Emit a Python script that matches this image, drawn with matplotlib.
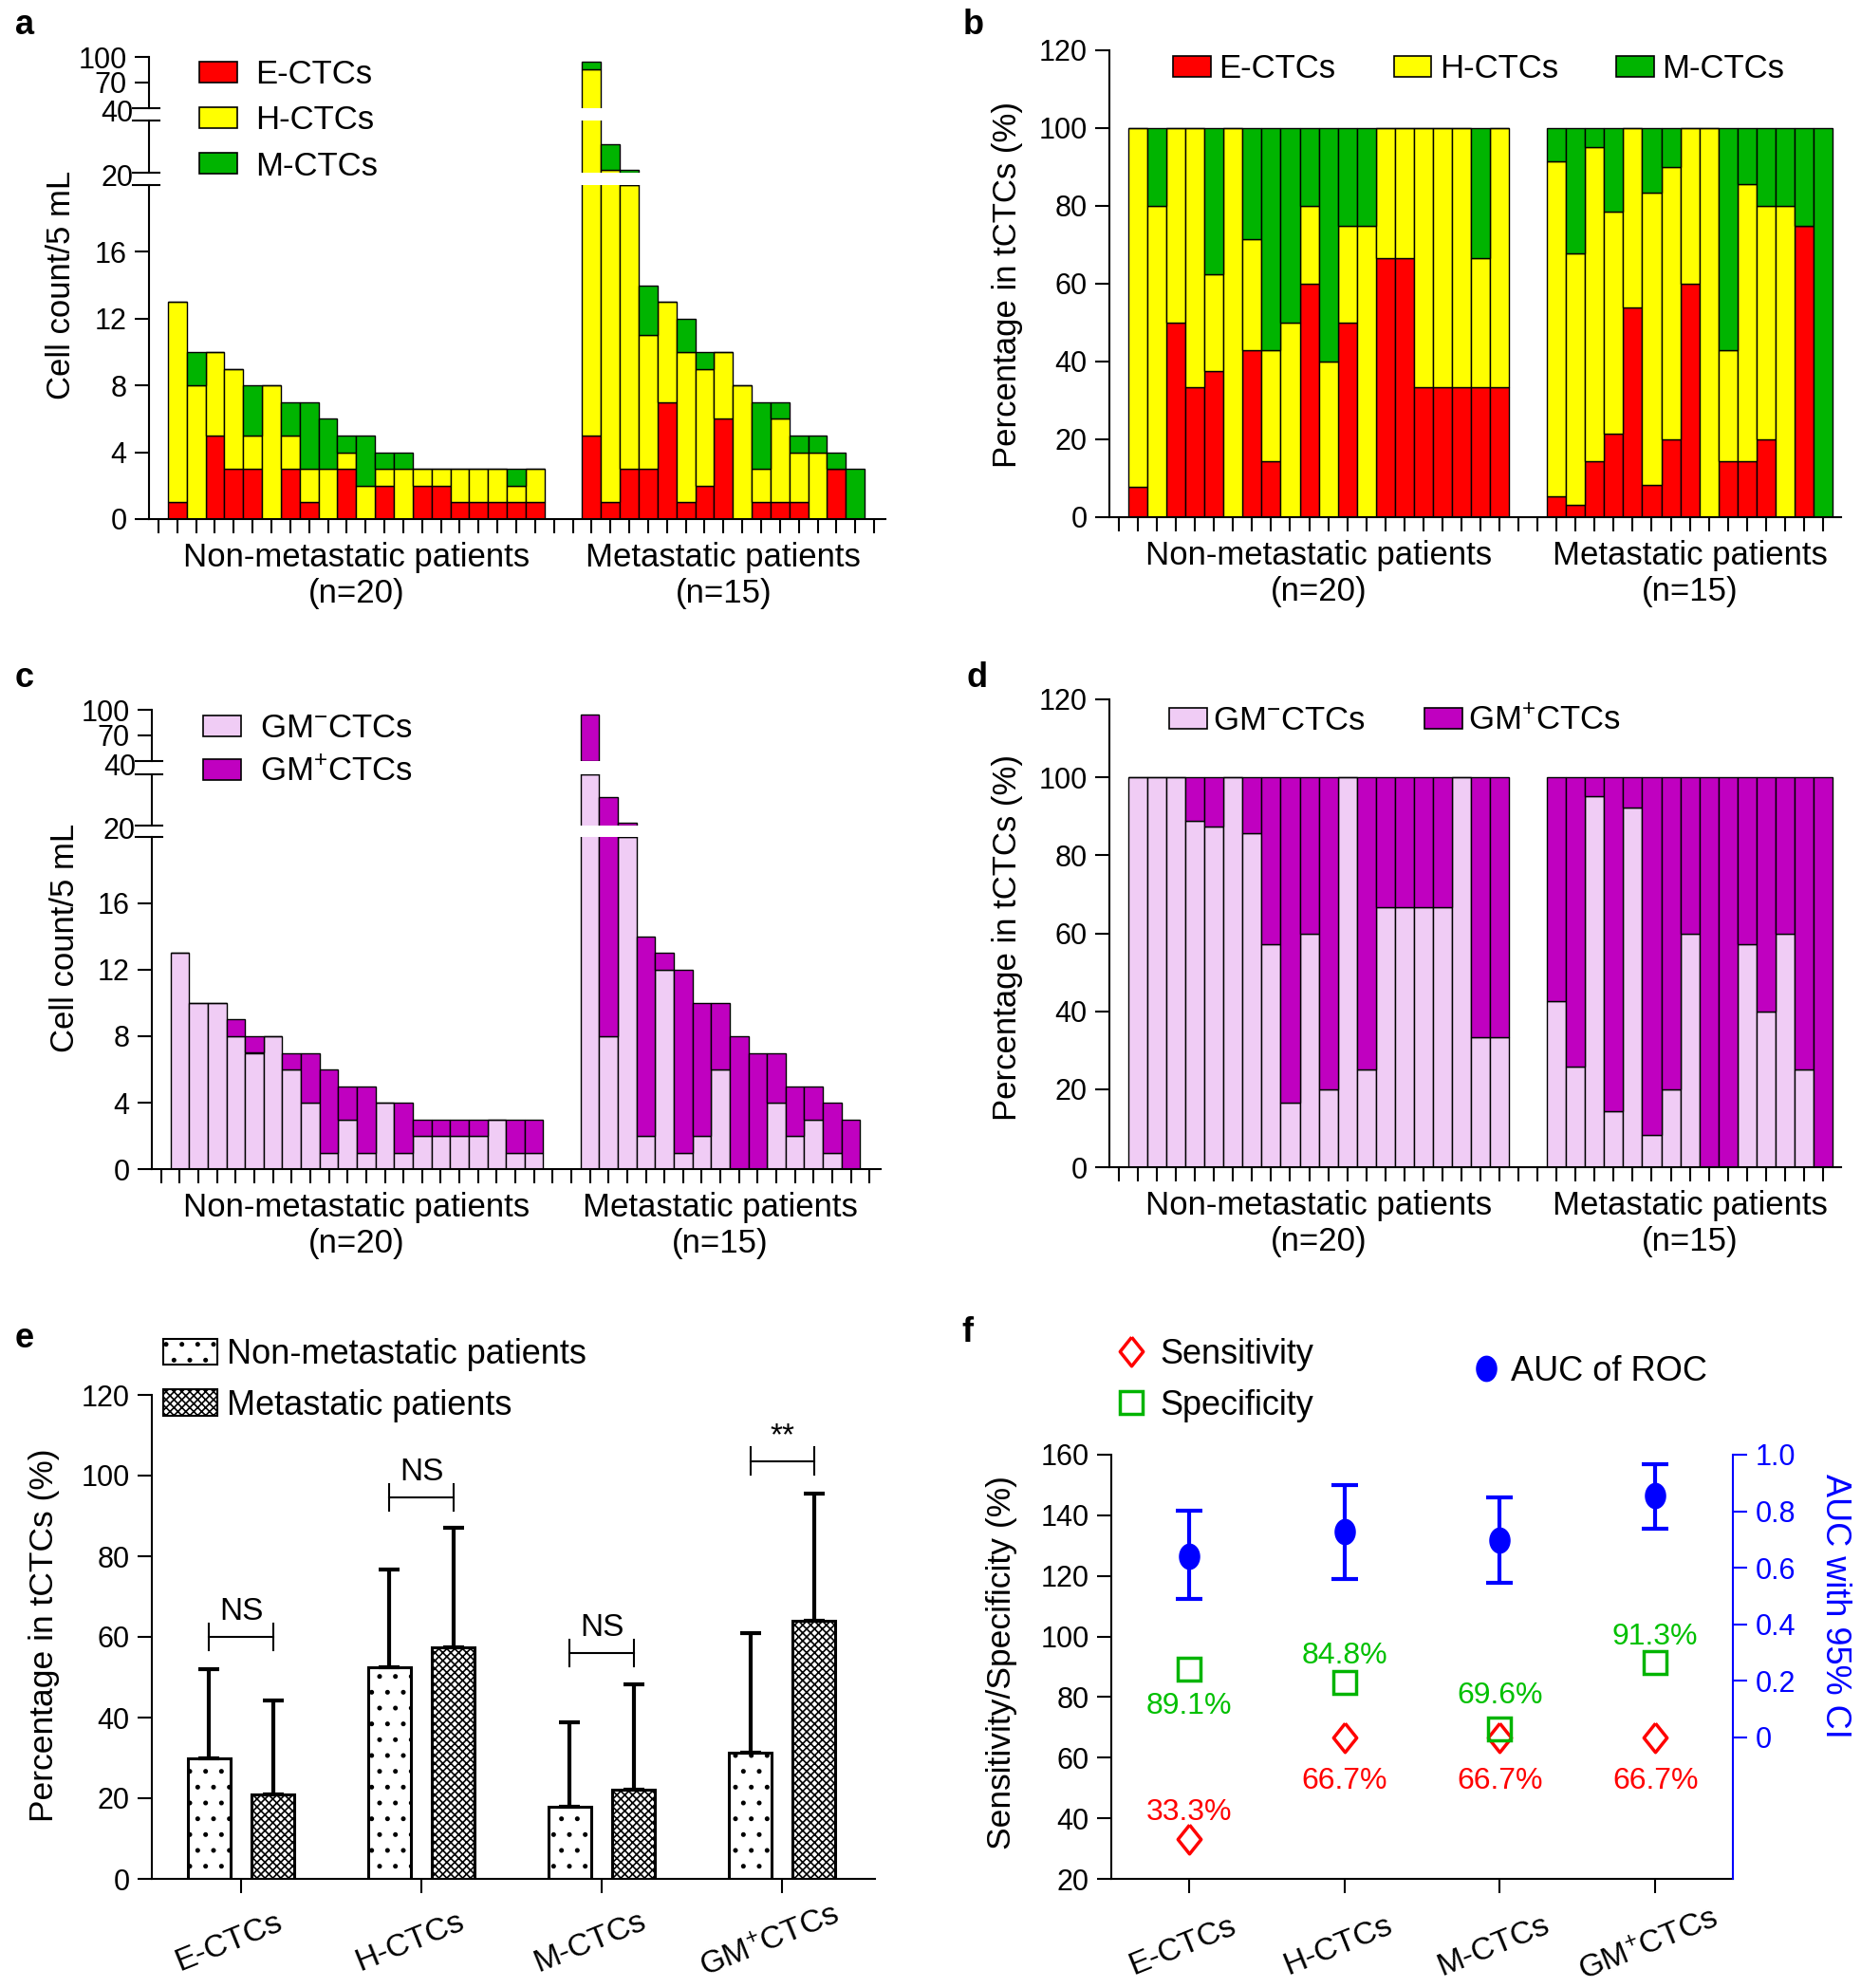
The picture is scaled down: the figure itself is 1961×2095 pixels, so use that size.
import matplotlib
matplotlib.use("Agg")
import matplotlib.pyplot as plt
from matplotlib.patches import Patch
from matplotlib.lines import Line2D
import numpy as np

plt.rcParams['font.family'] = ['Liberation Sans', 'DejaVu Sans']
plt.rcParams['mathtext.default'] = 'regular'
plt.rcParams['hatch.linewidth'] = 1.2

INK = '#000000'
RED, YELLOW, GREEN = '#ff0000', '#ffff00', '#00b400'
PINK, MAGENTA = '#f0ccf5', '#c000c0'
BLUE, LGREEN = '#0000ff', '#00c000'

# ---- panels a/b: CTC subtypes per patient (cell counts / 5 mL) ----
nonmet_E = [1, 0, 5, 3, 3, 0, 3, 1, 0, 3, 0, 2, 0, 2, 2, 1, 1, 1, 1, 1]
nonmet_H = [12, 8, 5, 6, 2, 8, 2, 2, 3, 1, 2, 1, 3, 1, 1, 2, 2, 2, 1, 2]
nonmet_M = [0, 2, 0, 0, 3, 0, 2, 4, 3, 1, 3, 1, 1, 0, 0, 0, 0, 0, 1, 0]
met_E = [5, 1, 3, 3, 7, 1, 2, 6, 0, 1, 1, 1, 0, 3, 0]
met_H = [81, 20, 17, 8, 6, 9, 7, 4, 8, 2, 5, 3, 4, 0, 0]
met_M = [8, 10, 1, 3, 0, 2, 1, 0, 0, 4, 1, 1, 1, 1, 3]

# ---- panels c/d: GM- / GM+ CTCs ----
nonmet_GMneg = [13, 10, 10, 8, 7, 8, 6, 4, 1, 3, 1, 4, 1, 2, 2, 2, 2, 3, 1, 1]
nonmet_GMpos = [0, 0, 0, 1, 1, 0, 1, 3, 5, 2, 4, 0, 3, 1, 1, 1, 1, 0, 2, 2]
met_GMneg = [40, 8, 20, 2, 12, 1, 2, 6, 0, 0, 4, 2, 3, 1, 0]
met_GMpos = [54, 23, 1, 12, 1, 11, 8, 4, 8, 7, 3, 3, 2, 3, 3]

group_labels = ["Non-metastatic patients\n(n=20)", "Metastatic patients\n(n=15)"]

# ---- panel e: mean + SD percentage ----
e_categories = ["E-CTCs", "H-CTCs", "M-CTCs", "GM$^{+}$CTCs"]
nonmet_mean = [29.8, 52.5, 18.0, 31.3]
nonmet_sd = [22.3, 24.1, 20.9, 29.6]
met_mean = [20.9, 57.4, 22.2, 64.1]
met_sd = [23.3, 29.6, 26.0, 31.5]
sig_text = ["NS", "NS", "NS", "**"]
sig_level = [60.0, 94.6, 56.0, 103.6]

# ---- panel f: diagnostic performance ----
f_categories = ["E-CTCs", "H-CTCs", "M-CTCs", "GM$^{+}$CTCs"]
sensitivity = [33.3, 66.7, 66.7, 66.7]
specificity = [89.1, 84.8, 69.6, 91.3]
auc = [0.642, 0.727, 0.696, 0.854]
auc_lo = [0.488, 0.561, 0.548, 0.739]
auc_hi = [0.803, 0.892, 0.849, 0.968]

W, H = 1961, 2095
fig = plt.figure(figsize=(W / 100, H / 100), dpi=100)


def box(l, t, r, b):
    return [l / W, 1 - b / H, (r - l) / W, (b - t) / H]


pos_nonmet = np.arange(1, len(nonmet_E) + 1)
pos_met = np.arange(len(nonmet_E) + 3, len(nonmet_E) + 3 + len(met_E))
xpos = np.concatenate([pos_nonmet, pos_met])
group_centers = [pos_nonmet.mean(), pos_met.mean()]

# taller-than-wide marker shapes used in panel f
DIAMOND = [(0, 1), (0.8, 0), (0, -1), (-0.8, 0), (0, 1)]
_t = np.linspace(0, 2 * np.pi, 60)
ELLIPSE = list(zip(0.8 * np.cos(_t), np.sin(_t)))


def stacked(ax, layers, colors):
    bottom = np.zeros(len(xpos))
    for vals, c in zip(layers, colors):
        vals = np.asarray(vals, dtype=float)
        ax.bar(xpos, vals, 1.0, bottom=bottom, color=c, edgecolor=INK,
               linewidth=1.0, zorder=2)
        bottom = bottom + vals


def style_bottom(ax, xmax, last_tick):
    for s in ('top', 'right'):
        ax.spines[s].set_visible(False)
    for s in ('left', 'bottom'):
        ax.spines[s].set_linewidth(1.5)
    ax.set_xlim(-0.5, xmax)
    ax.set_xticks(np.arange(0, last_tick + 1))
    ax.set_xticklabels([])
    ax.tick_params(axis='x', direction='out', length=11, width=1.5)
    ax.tick_params(axis='y', direction='out', length=11, width=1.5,
                   labelsize=22, pad=6)
    for xc, lab in zip(group_centers, group_labels):
        ax.annotate(lab, xy=(xc, 0), xycoords=('data', 'axes fraction'),
                    xytext=(0, -17), textcoords='offset points', ha='center',
                    va='top', fontsize=25)


def brk(ax, y):
    ax.plot([-0.022, 0.014], [y, y], transform=ax.transAxes, color=INK,
            lw=1.5, clip_on=False)


def broken_panel(left, right, sections, layers, colors):
    (bt, bb), (mt, mb), (tt, tb) = sections
    axb = fig.add_axes(box(left, bt, right, bb))
    axm = fig.add_axes(box(left, mt, right, mb))
    axt = fig.add_axes(box(left, tt, right, tb))
    for ax in (axb, axm, axt):
        stacked(ax, layers, colors)
    axb.set_ylim(0, 20)
    axm.set_ylim(20, 40)
    axt.set_ylim(40, 100)
    style_bottom(axb, 38.6, 38)
    axb.set_yticks([0, 4, 8, 12, 16])
    for ax in (axm, axt):
        ax.set_xlim(-0.5, 38.6)
        for s in ('top', 'right', 'bottom'):
            ax.spines[s].set_visible(False)
        ax.spines['left'].set_linewidth(1.5)
        ax.set_xticks([])
        ax.tick_params(axis='y', direction='out', length=11, width=1.5,
                       labelsize=22, pad=6)
    axm.set_yticks([])
    axt.set_yticks([70, 100])
    brk(axb, 1)
    brk(axm, 0)
    brk(axm, 1)
    brk(axt, 0)
    # labels of the break values sit in the gaps
    for val, (top_px, bot_px) in ((20, (mb, bt)), (40, (tb, mt))):
        fig.text((left - 17) / W, 1 - (top_px + bot_px) / 2 / H, str(val),
                 ha='right', va='center', fontsize=22)
    return axb


def pct_panel(left, top, right, bottom, layers, colors):
    ax = fig.add_axes(box(left, top, right, bottom))
    tot = np.sum([np.asarray(v, float) for v in layers], axis=0)
    stacked(ax, [np.asarray(v, float) / tot * 100 for v in layers], colors)
    ax.set_ylim(0, 120)
    ax.set_yticks(np.arange(0, 121, 20))
    style_bottom(ax, 37.95, 37)
    return ax


# ---------------- panel a ----------------
abc_layers = [nonmet_E + met_E, nonmet_H + met_H, nonmet_M + met_M]
abc_colors = [RED, YELLOW, GREEN]
broken_panel(157, 933, [(195, 547), (127, 182), (60, 114)], abc_layers, abc_colors)
fig.text(64 / W, 1 - 300 / H, "Cell count/5 mL", rotation=90, ha='center',
         va='center', fontsize=25)
handles = [Patch(facecolor=c, edgecolor=INK, lw=1.2) for c in abc_colors]
fig.legend(handles, ["E-CTCs", "H-CTCs", "M-CTCs"], loc='upper left',
           bbox_to_anchor=(210 / W, 1 - 62 / H), frameon=False, fontsize=25,
           borderpad=0, borderaxespad=0, handlelength=1.15, handleheight=0.6,
           handletextpad=0.55, labelspacing=0.44)

# ---------------- panel b ----------------
pct_panel(1169, 53, 1940, 545, abc_layers, abc_colors)
fig.text(1062 / W, 1 - 300 / H, "Percentage in tCTCs (%)", rotation=90,
         ha='center', va='center', fontsize=25)
fig.legend(handles, ["E-CTCs", "H-CTCs", "M-CTCs"], loc='upper left',
           bbox_to_anchor=(1236 / W, 1 - 56 / H), frameon=False, fontsize=25,
           ncol=3, borderpad=0, borderaxespad=0, handlelength=1.15,
           handleheight=0.6, handletextpad=0.25, columnspacing=1.75)

# ---------------- panel c ----------------
cd_layers = [nonmet_GMneg + met_GMneg, nonmet_GMpos + met_GMpos]
cd_colors = [PINK, MAGENTA]
broken_panel(160, 928, [(882, 1232), (816, 870), (748, 802)], cd_layers, cd_colors)
fig.text(69 / W, 1 - 988 / H, "Cell count/5 mL", rotation=90, ha='center',
         va='center', fontsize=25)
gm_labels = ["GM$^{-}$CTCs", "GM$^{+}$CTCs"]
handles_cd = [Patch(facecolor=c, edgecolor=INK, lw=1.2) for c in cd_colors]
fig.legend(handles_cd, gm_labels, loc='upper left',
           bbox_to_anchor=(214 / W, 1 - 751 / H), frameon=False, fontsize=25,
           borderpad=0, borderaxespad=0, handlelength=1.15, handleheight=0.6,
           handletextpad=0.58, labelspacing=0.37)

# ---------------- panel d ----------------
pct_panel(1169, 737, 1940, 1230, cd_layers, cd_colors)
fig.text(1062 / W, 1 - 988 / H, "Percentage in tCTCs (%)", rotation=90,
         ha='center', va='center', fontsize=25)
fig.legend(handles_cd, gm_labels, loc='upper left',
           bbox_to_anchor=(1232 / W, 1 - 743 / H), frameon=False, fontsize=25,
           ncol=2, borderpad=0, borderaxespad=0, handlelength=1.15,
           handleheight=0.6, handletextpad=0.17, columnspacing=1.8)


def slanted_labels(ax, xs, labels, dx, dy):
    # category names sit slanted below the axis, a little left of each tick
    ax.set_xticklabels([])
    for x, lab in zip(xs, labels):
        ax.annotate(lab, xy=(x, 0), xycoords=('data', 'axes fraction'),
                    xytext=(dx, dy), textcoords='offset points', ha='center',
                    va='center', rotation=22, fontsize=24)


# ---------------- panel e ----------------
ax_e = fig.add_axes(box(160, 1470, 922, 1980))
xe = np.arange(len(e_categories))
bw, off = 0.236, 0.177
ax_e.bar(xe - off, nonmet_mean, bw, color='white', edgecolor=INK, hatch='.',
         lw=2.2, zorder=2)
ax_e.bar(xe + off, met_mean, bw, color='white', edgecolor=INK, hatch='xxxx',
         lw=2.2, zorder=2)
ax_e.errorbar(xe - off, nonmet_mean, yerr=[np.zeros(4), nonmet_sd], fmt='none',
              ecolor=INK, elinewidth=3, capsize=8, capthick=3, zorder=3)
ax_e.errorbar(xe + off, met_mean, yerr=[np.zeros(4), met_sd], fmt='none',
              ecolor=INK, elinewidth=3, capsize=8, capthick=3, zorder=3)
for i, (txt, lvl) in enumerate(zip(sig_text, sig_level)):
    x0, x1 = xe[i] - off, xe[i] + off
    ax_e.plot([x0, x1], [lvl, lvl], color=INK, lw=1.5)
    ax_e.plot([x0, x0], [lvl - 3.4, lvl + 3.4], color=INK, lw=1.5)
    ax_e.plot([x1, x1], [lvl - 3.4, lvl + 3.4], color=INK, lw=1.5)
    ax_e.text(xe[i], lvl + 2.5, txt, ha='center', va='bottom', fontsize=24)
ax_e.set_xlim(-0.495, 3.515)
ax_e.set_ylim(0, 120)
ax_e.set_yticks(np.arange(0, 121, 20))
ax_e.set_xticks(xe)
slanted_labels(ax_e, xe, e_categories, -9, -48)
for s in ('top', 'right'):
    ax_e.spines[s].set_visible(False)
for s in ('left', 'bottom'):
    ax_e.spines[s].set_linewidth(1.5)
ax_e.tick_params(direction='out', length=11, width=1.5, pad=6)
ax_e.tick_params(axis='y', labelsize=22)
fig.text(47 / W, 1 - 1723 / H, "Percentage in tCTCs (%)", rotation=90,
         ha='center', va='center', fontsize=25.5)
handles_e = [Patch(facecolor='white', edgecolor=INK, hatch='.', lw=1.5),
             Patch(facecolor='white', edgecolor=INK, hatch='xxxx', lw=1.5)]
fig.legend(handles_e, ["Non-metastatic patients", "Metastatic patients"],
           loc='upper left', bbox_to_anchor=(172 / W, 1 - 1410 / H),
           frameon=False, fontsize=26, borderpad=0, borderaxespad=0,
           handlelength=1.58, handleheight=0.8, handletextpad=0.28,
           labelspacing=0.52)

# ---------------- panel f ----------------
ax_f = fig.add_axes(box(1171, 1533, 1826, 1980))
xf = np.arange(len(f_categories))
ax_r = ax_f.twinx()
ax_f.plot(xf, sensitivity, ls='none', marker=DIAMOND, ms=22, mfc='none',
          mec=RED, mew=2.5, zorder=3)
ax_f.plot(xf, specificity, ls='none', marker='s', ms=17, mfc='none',
          mec=GREEN, mew=2.5, zorder=4)
spec_dy = [-28, 20, 25, 20]
sens_dy = [20, -33, -33, -33]
for i in range(len(xf)):
    ax_f.annotate(f"{specificity[i]:.1f}%", (xf[i], specificity[i]),
                  xytext=(0, spec_dy[i]), textcoords='offset points',
                  ha='center', va='center', color=LGREEN, fontsize=23)
    ax_f.annotate(f"{sensitivity[i]:.1f}%", (xf[i], sensitivity[i]),
                  xytext=(0, sens_dy[i]), textcoords='offset points',
                  ha='center', va='center', color=RED, fontsize=23)
auc = np.asarray(auc)
ax_r.errorbar(xf, auc, yerr=[auc - np.asarray(auc_lo), np.asarray(auc_hi) - auc],
              fmt='none', ecolor=BLUE, elinewidth=3, capsize=10, capthick=3)
ax_r.plot(xf, auc, ls='none', marker=ELLIPSE, ms=19, color=BLUE)
ax_f.set_xlim(-0.5, 3.5)
ax_f.set_ylim(20, 160)
ax_f.set_yticks(np.arange(20, 161, 20))
ax_r.set_ylim(-0.502, 1.0)
ax_r.set_yticks([0, 0.2, 0.4, 0.6, 0.8, 1.0])
ax_r.set_yticklabels(["0", "0.2", "0.4", "0.6", "0.8", "1.0"])
ax_f.set_xticks(xf)
slanted_labels(ax_f, xf, f_categories, -5, -51)
for s in ('top', 'right'):
    ax_f.spines[s].set_visible(False)
for s in ('left', 'bottom'):
    ax_f.spines[s].set_linewidth(1.5)
for s in ('top', 'left', 'bottom'):
    ax_r.spines[s].set_visible(False)
ax_r.spines['right'].set_color(BLUE)
ax_r.spines['right'].set_linewidth(1.5)
ax_f.tick_params(direction='out', length=11, width=1.5, pad=6)
ax_f.tick_params(axis='y', labelsize=22)
ax_r.tick_params(direction='out', length=11, width=1.5, pad=6, colors=BLUE,
                 labelsize=22)
fig.text(1055 / W, 1 - 1752 / H, "Sensitivity/Specificity (%)", rotation=90,
         ha='center', va='center', fontsize=25.5)
fig.text(1934 / W, 1 - 1692 / H, "AUC with 95% CI", rotation=270,
         ha='center', va='center', fontsize=26, color=BLUE)
h_ss = [Line2D([], [], ls='none', marker=DIAMOND, ms=22, mfc='none', mec=RED,
               mew=2.5),
        Line2D([], [], ls='none', marker='s', ms=17, mfc='none', mec=GREEN,
               mew=2.5)]
fig.legend(h_ss, ["Sensitivity", "Specificity"], loc='upper left',
           bbox_to_anchor=(1174 / W, 1 - 1410 / H), frameon=False,
           fontsize=26, borderpad=0, borderaxespad=0, handlelength=1.0,
           handletextpad=0.33, labelspacing=0.52)
h_auc = [Line2D([], [], ls='none', marker=ELLIPSE, ms=19, color=BLUE)]
fig.legend(h_auc, ["AUC of ROC"], loc='upper left',
           bbox_to_anchor=(1548 / W, 1 - 1428 / H), frameon=False,
           fontsize=26, borderpad=0, borderaxespad=0, handlelength=1.0,
           handletextpad=0.22)

# panel letters
for letter, (px, py) in {'a': (16, 26), 'b': (1015, 26), 'c': (16, 714),
                         'd': (1018, 714), 'e': (16, 1411), 'f': (1013, 1405)}.items():
    fig.text(px / W, 1 - py / H, letter, ha='left', va='center', fontsize=26,
             fontweight='bold')

fig.savefig("out.png", dpi=100, facecolor='white')
